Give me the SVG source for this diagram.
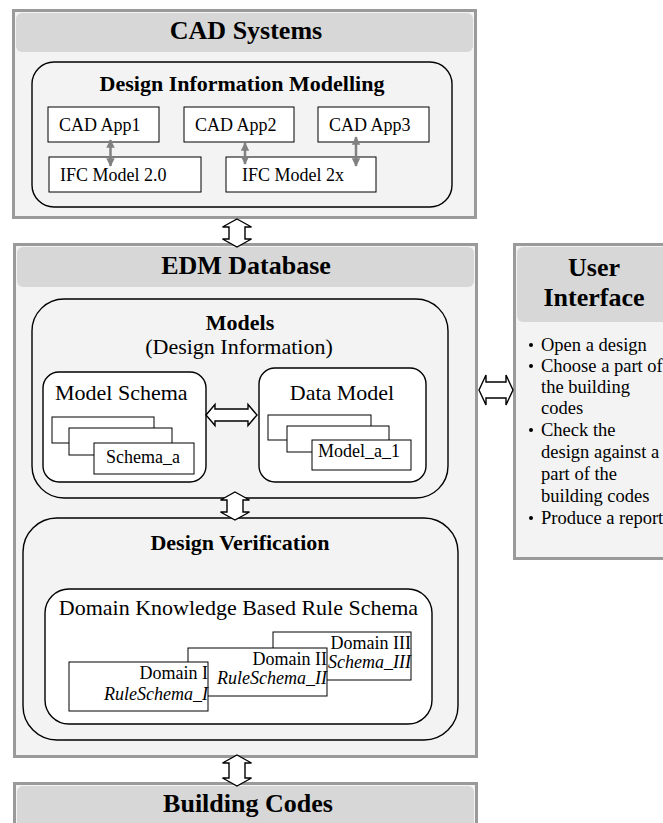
<svg xmlns="http://www.w3.org/2000/svg" width="663" height="823" viewBox="0 0 663 823">
  <defs>
    <style>
      text { font-family: "Liberation Serif", "Times New Roman", serif; fill: #000; }
      .panel { fill: #f3f3f3; stroke: #9a9a9a; stroke-width: 3; }
      .band { fill: #d7d7d7; }
      .title { font-size: 26px; font-weight: bold; text-anchor: middle; }
      .sub { font-size: 22px; font-weight: bold; text-anchor: middle; }
      .group { fill: #f3f3f3; stroke: #000; stroke-width: 1.4; }
      .inner { fill: #fff; stroke: #000; stroke-width: 1.4; }
      .box { fill: #fff; stroke: #000; stroke-width: 1; }
      .t18 { font-size: 18px; }
      .t22 { font-size: 22px; }
      .ui { font-size: 18.5px; }
      .end { text-anchor: end; }
      .it { font-style: italic; }
      .hollow { fill: #fff; stroke: #000; stroke-width: 1.4; stroke-linejoin: miter; }
      .link { stroke: #808080; stroke-width: 2.5; fill: none; }
    </style>
    <marker id="gh" viewBox="0 0 10 10" refX="9" refY="5" markerWidth="3.4" markerHeight="3.4" orient="auto-start-reverse" markerUnits="strokeWidth">
      <path d="M0,0 L10,5 L0,10 Z" fill="#808080"/>
    </marker>
  </defs>

  <!-- CAD systems panel -->
  <g id="cad-systems">
    <rect class="panel" x="13.5" y="10.5" width="462" height="207"/>
    <rect class="band" x="16" y="13" width="457" height="39" rx="6"/>
    <text class="title" x="246" y="39">CAD Systems</text>
    <rect class="group" x="32" y="62" width="420" height="145" rx="22"/>
    <text class="sub" x="242" y="91">Design Information Modelling</text>
  </g>
  <g id="cad-app1">
    <rect class="box" x="48" y="107" width="111" height="35"/>
    <text class="t18" x="59" y="131">CAD App1</text>
  </g>
  <g id="cad-app2">
    <rect class="box" x="184" y="107" width="110" height="35"/>
    <text class="t18" x="195" y="131">CAD App2</text>
  </g>
  <g id="cad-app3">
    <rect class="box" x="318" y="107" width="111" height="35"/>
    <text class="t18" x="329" y="131">CAD App3</text>
  </g>
  <g id="ifc-20">
    <rect class="box" x="49" y="157" width="152" height="35"/>
    <text class="t18" x="60" y="181">IFC Model 2.0</text>
  </g>
  <g id="ifc-2x">
    <rect class="box" x="226" y="157" width="150" height="35"/>
    <text class="t18" x="242" y="181">IFC Model 2x</text>
  </g>

  <!-- EDM database panel -->
  <g id="edm-database">
    <rect class="panel" x="14.5" y="244.5" width="462" height="512"/>
    <rect class="band" x="17" y="247" width="457" height="40" rx="6"/>
    <text class="title" x="246" y="274">EDM Database</text>
  </g>
  <g id="models">
    <rect class="group" x="32" y="299" width="416" height="199" rx="32"/>
    <text class="sub" x="240" y="330">Models</text>
    <text class="t22" x="239" y="354" text-anchor="middle">(Design Information)</text>
  </g>
  <g id="model-schema">
    <rect class="inner" x="43" y="372" width="163" height="110" rx="16"/>
    <text class="t22" x="55" y="400">Model Schema</text>
    <rect class="box" x="52" y="417" width="102" height="26"/>
    <rect class="box" x="69" y="428" width="103" height="27"/>
    <rect class="box" x="94" y="443" width="100" height="31"/>
    <text class="t18" x="106" y="463">Schema_a</text>
  </g>
  <g id="data-model">
    <rect class="inner" x="259" y="368" width="167" height="114" rx="16"/>
    <text class="t22" x="342" y="400" text-anchor="middle">Data Model</text>
    <rect class="box" x="268" y="415" width="103" height="25"/>
    <rect class="box" x="287" y="426" width="102" height="26"/>
    <rect class="box" x="312" y="440" width="99" height="30"/>
    <text class="t18" x="318" y="457">Model_a_1</text>
  </g>
  <g id="design-verification">
    <rect class="group" x="23" y="518" width="435" height="222" rx="34"/>
    <text class="sub" x="240" y="550">Design Verification</text>
  </g>
  <g id="rule-schema">
    <rect class="inner" x="45" y="589" width="387" height="135" rx="24"/>
    <text class="t22" x="238.5" y="615" text-anchor="middle">Domain Knowledge Based Rule Schema</text>
  </g>
  <g id="domain-3">
    <rect class="box" x="273" y="632" width="138" height="48"/>
    <text class="t18 end" x="411" y="649">Domain III</text>
    <text class="t18 end it" x="411" y="668">Schema_III</text>
  </g>
  <g id="domain-2">
    <rect class="box" x="188" y="648" width="139" height="48"/>
    <text class="t18 end" x="327" y="665">Domain II</text>
    <text class="t18 end it" x="327" y="684">RuleSchema_II</text>
  </g>
  <g id="domain-1">
    <rect class="box" x="69" y="662" width="139" height="49"/>
    <text class="t18 end" x="208" y="679">Domain I</text>
    <text class="t18 end it" x="208" y="700">RuleSchema_I</text>
  </g>

  <!-- User interface panel -->
  <g id="user-interface">
    <rect class="panel" x="514.5" y="244.5" width="160" height="314"/>
    <rect class="band" x="517" y="247" width="160" height="75" rx="6"/>
    <text class="title" x="594" y="276">User</text>
    <text class="title" x="594" y="306">Interface</text>
    <g fill="#000">
      <circle cx="531" cy="345" r="2"/>
      <circle cx="531" cy="366" r="2"/>
      <circle cx="531" cy="430" r="2"/>
      <circle cx="531" cy="518" r="2"/>
    </g>
    <text class="ui" x="541" y="351">Open a design</text>
    <text class="ui" x="541" y="372">Choose a part of</text>
    <text class="ui" x="541" y="393">the building</text>
    <text class="ui" x="541" y="414">codes</text>
    <text class="ui" x="541" y="436">Check the</text>
    <text class="ui" x="541" y="458">design against a</text>
    <text class="ui" x="541" y="480">part of the</text>
    <text class="ui" x="541" y="502">building codes</text>
    <text class="ui" x="541" y="524">Produce a report</text>
  </g>

  <!-- Building codes panel -->
  <g id="building-codes">
    <rect class="panel" x="14.5" y="783.5" width="462" height="60"/>
    <rect class="band" x="17" y="786" width="457" height="50" rx="6"/>
    <text class="title" x="248" y="812">Building Codes</text>
  </g>

  <!-- Connectors -->
  <g id="connectors">
    <line class="link" x1="110.5" y1="140" x2="110.5" y2="166" marker-start="url(#gh)" marker-end="url(#gh)"/>
    <line class="link" x1="245" y1="143" x2="245" y2="164" marker-start="url(#gh)" marker-end="url(#gh)"/>
    <line class="link" x1="356" y1="137" x2="356" y2="166" marker-start="url(#gh)" marker-end="url(#gh)"/>
    <!-- CAD systems <-> EDM database -->
    <path class="hollow" d="M237,219 L251.5,227 L245,227 L245,239 L251.5,239 L237,247 L222.5,239 L229,239 L229,227 L222.5,227 Z"/>
    <!-- Models <-> Design verification -->
    <path class="hollow" d="M235,492 L249.5,500 L243,500 L243,512 L249.5,512 L235,520 L220.5,512 L227,512 L227,500 L220.5,500 Z"/>
    <!-- EDM database <-> Building codes -->
    <path class="hollow" d="M237,755 L251.5,763 L245,763 L245,778 L251.5,778 L237,786 L222.5,778 L229,778 L229,763 L222.5,763 Z"/>
    <!-- Model schema <-> Data model -->
    <path class="hollow" d="M206,415 L215,404.5 L215,409 L248,409 L248,404.5 L257,415 L248,425.5 L248,421 L215,421 L215,425.5 Z"/>
    <!-- EDM database <-> User interface -->
    <path class="hollow" d="M479,390 L486,375 L486,382 L506,382 L506,375 L513,390 L506,405 L506,398 L486,398 L486,405 Z"/>
  </g>
</svg>
